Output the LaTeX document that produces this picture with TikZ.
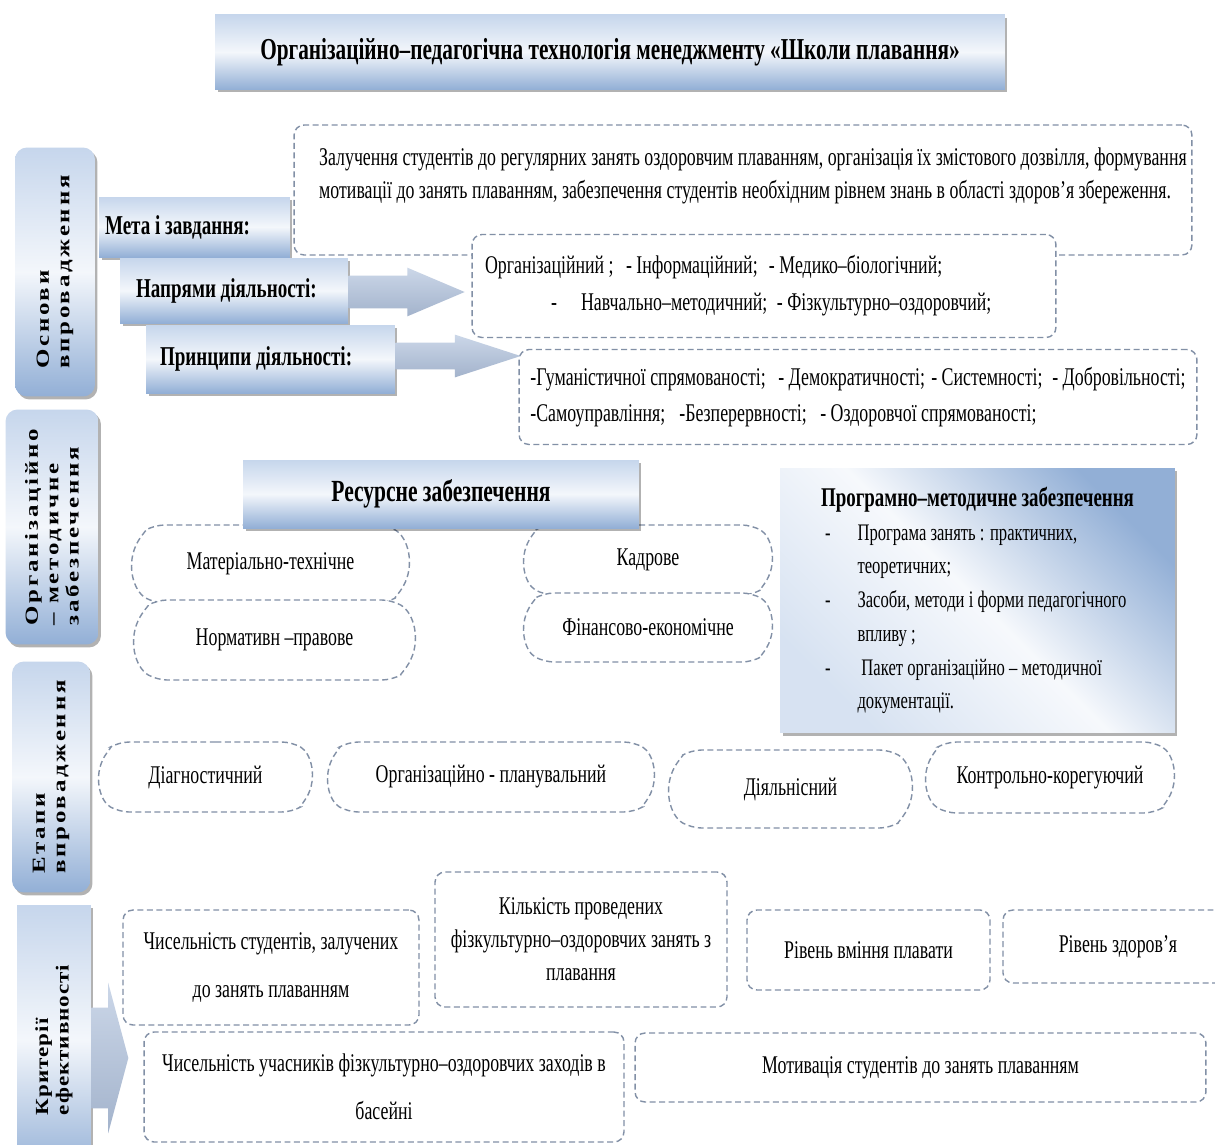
\documentclass[tikz,border=0pt]{standalone}
\usepackage{fontspec}
\setmainfont{Liberation Serif}[FakeStretch=0.70]
\newfontfamily\sidefont{Liberation Serif}[FakeStretch=1.35,LetterSpace=15]
\newfontfamily\sidefontn{Liberation Serif}[FakeStretch=1.25,LetterSpace=5]
\usetikzlibrary{shapes.arrows,shapes.misc,shadows,positioning}
\definecolor{skyblue}{HTML}{C6D6EC}
\definecolor{steelblue}{HTML}{92AFD6}
\definecolor{dashgray}{HTML}{8290A6}
\definecolor{arrowblue}{HTML}{A9BCD9}
\begin{document}
\begin{tikzpicture}[x=0.02cm, y=-0.02cm,
  bluebox/.style={rectangle, top color=skyblue, bottom color=steelblue, middle color=white!80!skyblue,
    drop shadow={shadow xshift=0.05cm, shadow yshift=-0.06cm, fill=black, opacity=0.3}},
  sidebox/.style={bluebox, rounded corners=0.24cm, rotate=90, align=left, inner sep=0pt,
    font=\sidefont\bfseries\fontsize{10.5}{11.6}\selectfont},
  tagbox/.style={bluebox, align=flush left, inner sep=0pt, font=\bfseries\fontsize{15.5}{18}\selectfont},
  dashbox/.style={rectangle, draw=dashgray, line width=0.8pt, dash pattern=on 3.4pt off 2pt,
    fill=white, rounded corners=0.2cm, align=center, font=\fontsize{14.5}{18.7}\selectfont},
  ovalbox/.style={dashbox, rounded rectangle, rounded rectangle arc length=120},
  blockarrow/.style={single arrow, top color=white!40!arrowblue, bottom color=arrowblue!85!gray, inner xsep=0pt},
]
\path[use as bounding box, fill=white] (0,0) rectangle (1215,1144);
\clip (0,0) rectangle (1215,1144);

% ============================================================
% TITLE
% ============================================================
\node[bluebox, minimum width=15.8cm, minimum height=1.5cm,
  font=\bfseries\fontsize{17.3}{20}\selectfont] (title) at (610,52)
  {Організаційно–педагогічна технологія менеджменту «Школи плавання»};

% ============================================================
% SIDE LABELS
% ============================================================
\node[sidebox, minimum width=4.98cm, minimum height=1.6cm] (osnovy) at (55,272) {Основи\\впровадження};
\node[sidebox, minimum width=4.7cm, minimum height=1.86cm] (orgmet) at (52,527) {Організаційно\\– методичне\\забезпечення};
\node[sidebox, minimum width=4.62cm, minimum height=1.56cm] (etapy) at (51,777) {Етапи\\впровадження};
\node[sidebox, sharp corners, minimum width=5.4cm, minimum height=1.48cm,
  font=\sidefontn\bfseries\fontsize{10.5}{11.6}\selectfont] (kryt) at (54,1040) {Критерії\\ефективності};
\node[blockarrow, anchor=tail, minimum height=0.74cm, inner ysep=1cm, single arrow head extend=0.5cm,
  minimum width=3cm, single arrow tip angle=150] (krytarr) at ([xshift=0.74cm, yshift=-0.36cm]kryt.center) {};

% ============================================================
% BASICS: goal, directions, principles
% ============================================================
\node[dashbox, minimum width=17.96cm, minimum height=2.6cm] (meta) at (743,190) {};
\node[anchor=west, align=left, font=\fontsize{14.5}{18.7}\selectfont] (metatxt) at (313,176)
  {Залучення студентів  до регулярних занять оздоровчим плаванням, організація їх змістового дозвілля, формування\\
   мотивації до занять плаванням, забезпечення студентів необхідним рівнем знань в області здоров’я збереження.};

\node[dashbox, minimum width=11.68cm, minimum height=2.06cm, align=flush left, text width=11.16cm,
  inner xsep=0.26cm, font=\fontsize{14.5}{21}\selectfont] (napryamy) at (764,286)
  {\makebox[2.82cm][l]{Організаційний ;}\makebox[2.86cm][l]{- Інформаційний;}- Медико–біологічний;\\
   \hspace*{1.32cm}\makebox[0.6cm][l]{-}\makebox[3.92cm][l]{Навчально–методичний;}- Фізкультурно–оздоровчий;};

\node[dashbox, minimum width=13.56cm, minimum height=1.9cm, align=left,
  font=\fontsize{14.5}{20.4}\selectfont] (pryntsypy) at (858,397)
  {\makebox[4.96cm][l]{-Гуманістичної спрямованості;}\makebox[3.06cm][l]{- Демократичності;}\makebox[2.42cm][l]{- Системності;}- Добровільності;\\
   \makebox[2.98cm][l]{-Самоуправління;}\makebox[2.82cm][l]{-Безперервності;}- Оздоровчої спрямованості;};

\node[tagbox, minimum width=3.82cm, minimum height=1.2cm, text width=3.58cm, inner xsep=0.12cm] (metatag) at (194.5,227) {Мета і завдання:};
\node[tagbox, minimum width=4.56cm, minimum height=1.3cm, text width=3.92cm, inner xsep=0.32cm] (naprtag) at (234,290.5) {Напрями діяльності:};
\node[tagbox, minimum width=4.98cm, minimum height=1.36cm, text width=4.42cm, inner xsep=0.28cm] (pryntag) at (270.5,359) {Принципи діяльності:};

% Arrows to the lists
\node[blockarrow, anchor=tail, minimum height=2.32cm, inner ysep=0.32cm, single arrow head extend=0.16cm,
  minimum width=0.96cm, single arrow tip angle=46] (arrnapr) at ([yshift=-0.03cm]naprtag.east) {};
\node[blockarrow, anchor=tail, minimum height=2.5cm, inner ysep=0.26cm, single arrow head extend=0.16cm,
  minimum width=0.84cm, single arrow tip angle=36] (arrpryn) at ([yshift=0.06cm]pryntag.east) {};

% ============================================================
% RESOURCES
% ============================================================
\node[ovalbox, minimum width=5.78cm, minimum height=1.56cm] (mater) at (270.5,564) {Матеріально-технічне};
\node[ovalbox, minimum width=5.86cm, minimum height=1.6cm] (norm) at (274.5,640) {Нормативн –правове};
\node[ovalbox, minimum width=5.2cm, minimum height=1.4cm] (kadr) at (648,560) {Кадрове};
\node[ovalbox, minimum width=5.2cm, minimum height=1.38cm] (fin) at (648,627.5) {Фінансово-економічне};
\node[bluebox, minimum width=7.92cm, minimum height=1.36cm,
  font=\bfseries\fontsize{17.5}{20}\selectfont] (resurs) at (441,494) {Ресурсне забезпечення};

\node[bluebox, top color=steelblue, bottom color=skyblue!70, middle color=white!85!skyblue, shading angle=-45,
  minimum width=7.9cm, minimum height=5.3cm, text width=6.4cm, inner xsep=0.75cm, align=flush left,
  font=\fontsize{13.5}{19.2}\selectfont] (progmet) at (977.5,600.5)
  {\makebox[6.4cm][c]{\bfseries\fontsize{15.4}{19.2}\selectfont Програмно–методичне забезпечення}\\
   \makebox[0.8cm][l]{\hspace*{0.15cm}-}Програма занять : практичних,\\
   \hspace*{0.8cm}теоретичних;\\
   \makebox[0.8cm][l]{\hspace*{0.15cm}-}Засоби, методи і форми педагогічного\\
   \hspace*{0.8cm}впливу ;\\
   \makebox[0.8cm][l]{\hspace*{0.15cm}-}\,Пакет організаційно – методичної\\
   \hspace*{0.8cm}документації.};

% ============================================================
% STAGES
% ============================================================
\node[ovalbox, minimum width=4.5cm, minimum height=1.4cm] (diag) at (205.5,777) {Діагностичний};
\node[ovalbox, minimum width=6.76cm, minimum height=1.4cm] (orgplan) at (491,777) {Організаційно - планувальний};
\node[ovalbox, minimum width=5.1cm, minimum height=1.56cm] (diyal) at (790.5,789) {Діяльнісний};
\node[ovalbox, minimum width=5.2cm, minimum height=1.42cm] (kontrol) at (1050,777.5) {Контрольно-корегуючий};

% ============================================================
% CRITERIA
% ============================================================
\node[dashbox, minimum width=5.92cm, minimum height=2.3cm, font=\fontsize{14.5}{27.2}\selectfont] (chysst) at (271,967.5)
  {Чисельність студентів, залучених\\до занять плаванням};
\node[dashbox, minimum width=5.84cm, minimum height=2.7cm] (kilk) at (581,939.5)
  {Кількість проведених\\фізкультурно–оздоровчих занять з\\плавання};
\node[dashbox, minimum width=4.86cm, minimum height=1.6cm] (riven) at (868.5,950) {Рівень вміння плавати};
\node[dashbox, minimum width=4.6cm, minimum height=1.46cm] (zdorov) at (1118,946.5) {Рівень здоров’я};
\node[dashbox, minimum width=9.6cm, minimum height=2.2cm, font=\fontsize{14.5}{27.2}\selectfont] (chysuch) at (384,1087)
  {Чисельність учасників фізкультурно–оздоровчих заходів в\\басейні};
\node[dashbox, minimum width=11.42cm, minimum height=1.38cm] (motyv) at (920.5,1067.5)
  {Мотивація студентів до занять плаванням};

\end{tikzpicture}
\end{document}
